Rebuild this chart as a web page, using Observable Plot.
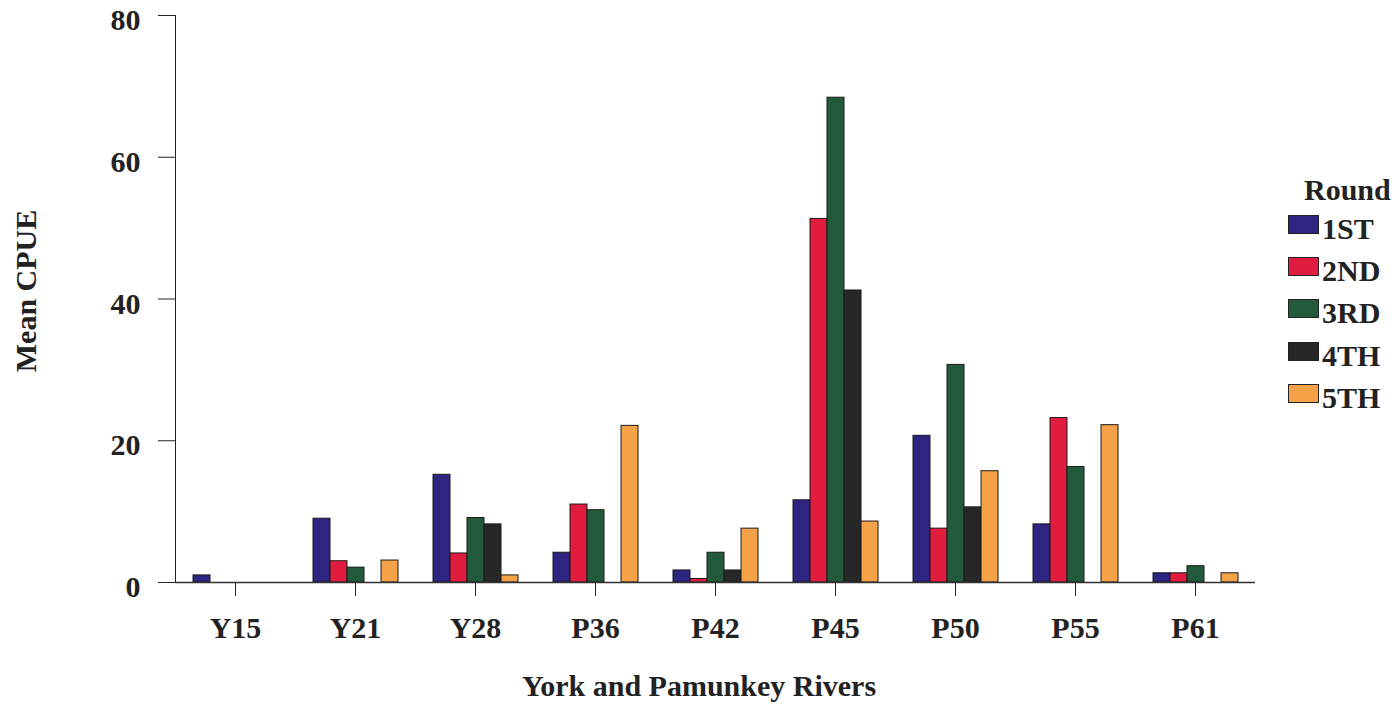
<!DOCTYPE html>
<html>
<head>
<meta charset="utf-8">
<script src="https://cdn.jsdelivr.net/npm/d3@7"></script>
<script src="https://cdn.jsdelivr.net/npm/@observablehq/plot@0.6"></script>
<style>
  body { margin: 0; background: #fff; }
  #wrap { position: relative; width: 1394px; height: 706px; overflow: hidden;
          font-family: "Liberation Serif", "Times New Roman", serif; font-weight: bold; color: #222; }
  #wrap svg { position: absolute; left: 0; top: 0; }
  .lg-title, .lg-label, .ax-label { position: absolute; font-size: 30px; line-height: 30px; white-space: nowrap; }
  .lg-swatch { position: absolute; width: 29px; height: 17px; border: 1px solid #222; }
  #ylab { left: 26px; top: 291px; transform: translate(-50%, -50%) rotate(-90deg); }
  #xlab { left: 699px; top: 671px; transform: translateX(-50%); }
</style>
</head>
<body>
<div id="wrap"></div>
<script>
// ---- data ----
const sites = ["Y15", "Y21", "Y28", "P36", "P42", "P45", "P50", "P55", "P61"];
const rounds = ["1ST", "2ND", "3RD", "4TH", "5TH"];
const round1st = [1.0, 9.0, 15.2, 4.2, 1.7, 11.6, 20.7, 8.2, 1.3];
const round2nd = [0, 3.0, 4.1, 11.0, 0.5, 51.3, 7.6, 23.2, 1.3];
const round3rd = [0, 2.1, 9.1, 10.2, 4.2, 68.4, 30.7, 16.3, 2.3];
const round4th = [0, 0, 8.2, 0, 1.7, 41.2, 10.6, 0, 0];
const round5th = [0, 3.1, 1.0, 22.1, 7.6, 8.6, 15.7, 22.2, 1.3];
const roundColors = ["#2e2580", "#e11c3e", "#245a3c", "#252826", "#f4a148"];
const yTicks = [0, 20, 40, 60, 80];
const yTitle = "Mean CPUE";
const xTitle = "York and Pamunkey Rivers";
const legendTitle = "Round";

// ---- table ----
const series = [round1st, round2nd, round3rd, round4th, round5th];
const rows = [];
series.forEach((vals, i) => vals.forEach((v, j) => {
  if (v > 0) rows.push({site: sites[j], round: rounds[i], value: v});
}));

const chart = Plot.plot({
  width: 1394,
  height: 706,
  marginLeft: 173,
  marginRight: 137,
  marginTop: 15,
  marginBottom: 124,
  style: {
    fontFamily: '"Liberation Serif", "Times New Roman", serif',
    fontWeight: "bold",
    fontSize: "30px",
    color: "#222",
    background: "white",
    overflow: "visible"
  },
  facet: {data: rows, x: "site"},
  fx: {domain: sites, padding: 0, axis: "bottom", tickSize: 14, tickPadding: 20, label: null},
  x: {domain: rounds, axis: null, paddingInner: 0, paddingOuter: 0.85},
  y: {domain: [0, 80], ticks: yTicks, tickSize: 17, tickPadding: 18, line: true, label: null},
  color: {domain: rounds, range: roundColors},
  marks: [
    Plot.barY(rows, {x: "round", y: "value", fill: "round", stroke: "#1a1a1a", strokeWidth: 1}),
    Plot.ruleY([0], {stroke: "#333", strokeWidth: 1.5})
  ]
});

// nudge y tick labels slightly below their ticks, as in the reference
d3.select(chart).selectAll('[aria-label="y-axis tick label"] text').attr("dy", "0.17em");

const wrap = document.getElementById("wrap");
wrap.appendChild(chart);

// ---- axis titles and legend (HTML) ----
const lg = d3.select(wrap);
lg.append("div").attr("class", "ax-label").attr("id", "ylab").text(yTitle);
lg.append("div").attr("class", "ax-label").attr("id", "xlab").text(xTitle);
lg.append("div").attr("class", "lg-title")
  .style("left", "1304px").style("top", "175px").text(legendTitle);
rounds.forEach((r, i) => {
  const top = 215 + i * 42.2;
  lg.append("div").attr("class", "lg-swatch")
    .style("left", "1288px").style("top", top + "px")
    .style("background", roundColors[i]);
  lg.append("div").attr("class", "lg-label")
    .style("left", "1322px").style("top", (top - 1) + "px").text(r);
});
</script>
</body>
</html>
